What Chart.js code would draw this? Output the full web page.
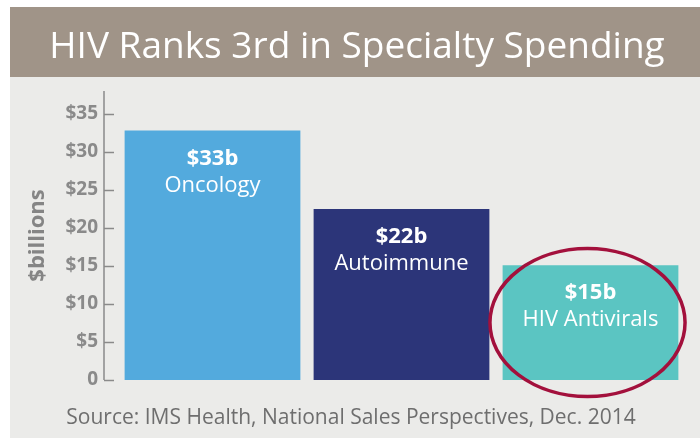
<!DOCTYPE html>
<html>
<head>
<meta charset="utf-8">
<script src="https://cdn.jsdelivr.net/npm/chart.js@4"></script>
<style>
  html, body { margin: 0; padding: 0; background: #ffffff; }
  #wrap { width: 700px; height: 438px; }
</style>
</head>
<body>
<div id="wrap"><canvas id="Chart" width="700" height="438"></canvas></div>
<script>
//chart data
var categories = ["Oncology", "Autoimmune", "HIV Antivirals"];
var spending = [32.8, 22.5, 15.1];
var valueLabels = ["$33b", "$22b", "$15b"];
var barColors = ["#53aadd", "#2c3579", "#5bc5c2"];
var tickValues = [0, 5, 10, 15, 20, 25, 30, 35];

var titleText = "HIV Ranks 3rd in Specialty Spending";
var sourceText = "Source: IMS Health, National Sales Perspectives, Dec. 2014";
var highlight = 2; // the circled bar

var font = "'Open Sans', 'Noto Sans', sans-serif";
var gray = "#8a8a8a";

//background, title band and footer text
var backgroundPlugin = {
  id: "background",
  beforeDraw: function (chart) {
    var ctx = chart.ctx;
    ctx.save();
    ctx.fillStyle = "#ffffff";
    ctx.fillRect(0, 0, chart.width, chart.height);
    ctx.fillStyle = "#ebebe9";
    ctx.fillRect(10, 7, chart.width - 10, chart.height - 7);
    ctx.fillStyle = "#a09488";
    ctx.fillRect(10, 7, chart.width - 10, 70);

    ctx.fillStyle = "#ffffff";
    ctx.font = "37px " + font;
    ctx.textAlign = "center";
    ctx.textBaseline = "alphabetic";
    ctx.fillText(titleText, 357, 58);

    ctx.fillStyle = "#6e6e6e";
    ctx.font = "21px " + font;
    ctx.fillText(sourceText, 351, 424);
    ctx.restore();
  },
};

//y axis line with inward tick marks
var axisPlugin = {
  id: "axisLine",
  afterDraw: function (chart) {
    var ctx = chart.ctx;
    var y = chart.scales.y;
    var x0 = chart.chartArea.left - 14;
    ctx.save();
    ctx.strokeStyle = gray;
    ctx.lineWidth = 1.5;
    ctx.beginPath();
    ctx.moveTo(x0, chart.chartArea.top);
    ctx.lineTo(x0, chart.chartArea.bottom);
    tickValues.forEach(function (v) {
      var py = Math.round(y.getPixelForValue(v)) + 0.5;
      ctx.moveTo(x0, py);
      ctx.lineTo(x0 + 10, py);
    });
    ctx.stroke();
    ctx.restore();
  },
};

//labels inside bars and the circle round the highlighted bar
var labelPlugin = {
  id: "barLabels",
  afterDatasetsDraw: function (chart) {
    var ctx = chart.ctx;
    var meta = chart.getDatasetMeta(0);
    ctx.save();
    ctx.fillStyle = "#ffffff";
    ctx.textAlign = "center";
    ctx.textBaseline = "alphabetic";
    meta.data.forEach(function (bar, i) {
      ctx.font = "bold 22px " + font;
      ctx.fillText(valueLabels[i], bar.x, bar.y + 34);
      ctx.font = "22px " + font;
      ctx.fillText(categories[i], bar.x, bar.y + 61);
    });

    var hb = meta.data[highlight];
    var cy = (hb.y + hb.base) / 2;
    ctx.strokeStyle = "#a3103c";
    ctx.lineWidth = 3.5;
    ctx.beginPath();
    ctx.ellipse(hb.x - 3, cy, hb.width * 0.555, 74, 0, 0, Math.PI * 2);
    ctx.stroke();
    ctx.restore();
  },
};

function launchGraf() {
  var ctx = document.getElementById("Chart").getContext("2d");

  var options = {
    responsive: false,
    animation: false,
    devicePixelRatio: 1,
    layout: {
      padding: { top: 91, bottom: 58, left: 0, right: 15 },
    },
    plugins: {
      legend: { display: false },
      tooltip: { enabled: false },
    },
    scales: {
      x: {
        display: false,
        grid: { display: false },
      },
      y: {
        min: 0,
        max: 38,
        afterBuildTicks: function (scale) {
          scale.ticks = tickValues.map(function (v) {
            return { value: v };
          });
        },
        afterFit: function (scale) {
          scale.width = 118;
        },
        grid: { display: false, drawTicks: false },
        border: { display: false },
        ticks: {
          padding: 20,
          color: gray,
          font: { family: font, size: 19, weight: "bold" },
          callback: function (v) {
            return v === 0 ? "0" : "$" + v;
          },
        },
        title: {
          display: true,
          text: "$billions",
          color: "#858585",
          padding: { top: 25, bottom: 0 },
          font: { family: font, size: 22, weight: "bold" },
        },
      },
    },
  };

  new Chart(ctx, {
    type: "bar",
    data: {
      labels: categories,
      datasets: [
        {
          data: spending,
          backgroundColor: barColors,
          borderWidth: 0,
          categoryPercentage: 1,
          barPercentage: 0.93,
        },
      ],
    },
    options: options,
    plugins: [backgroundPlugin, axisPlugin, labelPlugin],
  });
}

launchGraf();
</script>
</body>
</html>
